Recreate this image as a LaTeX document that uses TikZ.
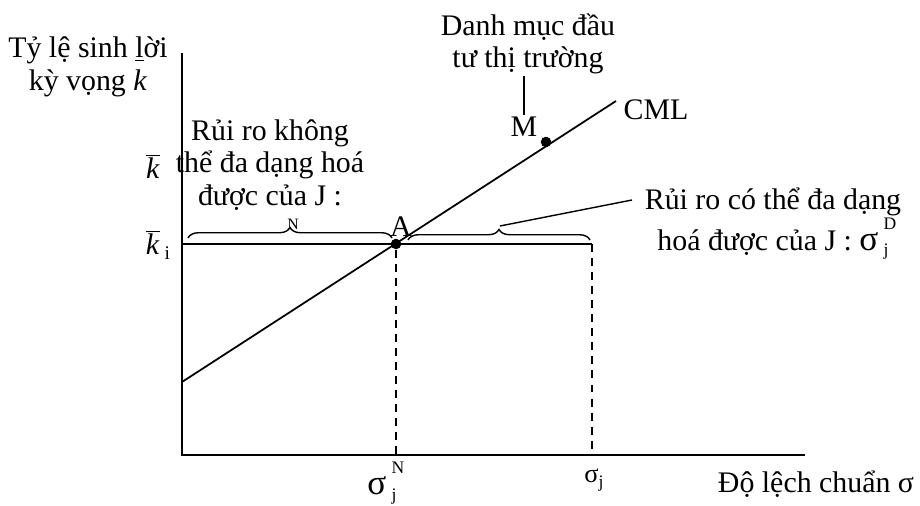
\documentclass[tikz,border=0pt]{standalone}
\usepackage{fontspec}
\setmainfont{Liberation Serif}
\usepackage{tikz}
\usetikzlibrary{positioning, calc, decorations.pathreplacing}

\newcommand{\sigsub}[2]{{\fontsize{20}{20}\selectfont σ}\hspace{3pt}{\fontsize{10}{10}\selectfont\rlap{\raisebox{12pt}{#1}}\raisebox{-3pt}{#2}}}

\tikzset{
  txt/.style={font=\fontsize{17}{18.5}\selectfont, inner sep=1pt, align=center},
  axis/.style={line width=1.1pt},
  guide/.style={line width=0.9pt, dash pattern=on 4.5pt off 3.5pt},
  cbrace/.style={decorate, decoration={brace, amplitude=6pt}, line width=0.8pt},
  dot/.style={circle, fill=black, inner sep=0pt, minimum size=6pt}
}

\begin{document}
\begin{tikzpicture}[x=0.02cm, y=-0.02cm]
  \useasboundingbox (0,0) rectangle (920,506);

  % axes
  \coordinate (O) at (182,455);
  \coordinate (ytop) at (182,53);
  \coordinate (xend) at (805,455);
  \draw[axis] (ytop) -- (O) -- (xend);

  % CML
  \coordinate (c0) at (182,382);
  \coordinate (c1) at (616,101);
  \draw[line width=1pt] (c0) -- (c1);
  \node[dot] (A) at (396,244) {};
  \node[dot] (M) at (546,142) {};

  % level of k_i and the two deviations
  \coordinate (kleft) at (182,244);
  \coordinate (sj) at (592,244);
  \draw[line width=1pt] (kleft) -- (sj);
  \draw[guide] (A) -- (A |- O);
  \draw[guide] (sj) -- (sj |- O);

  % braces
  \coordinate (bN0) at (188,238);
  \coordinate (bN1) at (392,238);
  \coordinate (bD0) at (408,240);
  \coordinate (bD1) at (590,240);
  \coordinate (tipD) at (500,226);
  \coordinate (leadD) at (632,200);
  \draw[cbrace] (bN0) -- (bN1);
  \draw[cbrace] (bD0) -- (bD1);

  % labels
  \node[txt] (ylab) at (88,67) {Tỷ lệ sinh \underline{l}ời\\kỳ vọng \textit{k}};
  \node[txt] (kbar) at (153,166) {$\overline{\mbox{\textit{k}}}$};
  \node[txt] (kbari) at (158,245) {$\overline{\mbox{\textit{k}}}$\,\raisebox{-3pt}{\fontsize{11}{12}\selectfont i}};
  \node[txt] (nondiv) at (270,165) {Rủi ro không\\thể đa dạng hoá\\được của J :};
  \node[font=\fontsize{9}{10}\selectfont, inner sep=0pt] (nsup) at (293,224) {N};
  \node[txt] (Alab) at (401,227) {A};
  \node[txt] (market) at (528,44) {Danh mục đầu\\tư thị trường};
  \node[txt] (Mlab) at (524,127) {M};
  \draw[line width=0.8pt] (Mlab.north |- market.south) -- (Mlab.north);
  \node[txt] (cml) at (656,110) {CML};
  \node[txt, font=\fontsize{17}{20}\selectfont] (divlab) at (773,224) {Rủi ro có thể đa dạng\\hoá được của J : \sigsub{D}{j}};
  \draw[line width=0.8pt] (tipD) -- (leadD);
  \node[txt] (sigN) at (382,483) {\sigsub{N}{j}};
  \node[txt, font=\fontsize{15}{16}\selectfont] (sigj) at (594,480) {σ\raisebox{-3pt}{\fontsize{10}{11}\selectfont j}};
  \node[txt] (xlab) at (816,484) {Độ lệch chuẩn σ};
\end{tikzpicture}
\end{document}
